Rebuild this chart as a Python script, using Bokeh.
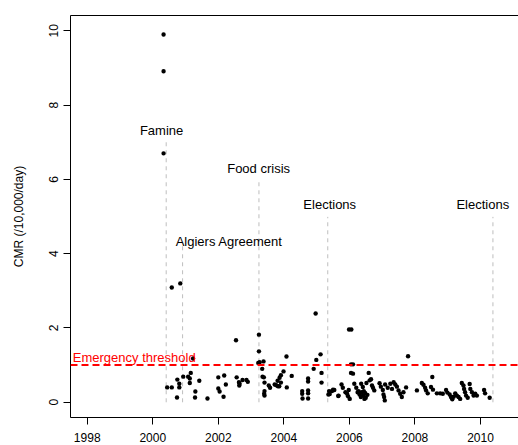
from bokeh.plotting import figure
from bokeh.models import Range1d, FixedTicker, LinearAxis, Span
from bokeh.core.properties import value
from bokeh.embed import file_html
from bokeh.resources import INLINE

# CMR survey points: (year, CMR per 10,000/day)
years = [
    2000.33, 2000.33, 2000.33,
    2000.58, 2000.84, 2002.54, 2001.23,
    2000.44, 2000.58, 2000.74, 2000.75, 2000.81, 2000.81, 2000.93, 2001.08, 2001.13, 2001.16,
    2001.13, 2001.30, 2001.29, 2001.42, 2001.67, 2002.00, 2002.18, 2002.00, 2002.04, 2002.16,
    2002.23, 2002.56, 2002.63, 2002.64, 2002.65, 2002.74, 2002.86, 2002.90,
    2003.24, 2003.24, 2003.22, 2003.26, 2003.38, 2003.34, 2003.35, 2003.39, 2003.41, 2003.41,
    2003.40, 2003.41, 2003.54, 2003.58, 2003.72, 2003.77, 2003.82, 2003.86, 2003.81, 2003.87,
    2003.91, 2003.91, 2003.99, 2004.08, 2004.09, 2004.24, 2004.56, 2004.56, 2004.57, 2004.74,
    2004.74, 2004.74, 2004.74, 2004.74, 2004.97, 2004.99, 2004.91, 2005.12, 2005.15, 2005.15,
    2005.38, 2005.40, 2005.36, 2005.50, 2005.66, 2005.47, 2005.54, 2005.67,
    2005.76, 2005.80, 2005.88, 2005.93, 2005.96, 2006.01, 2005.98, 2005.99, 2006.06,
    2006.05, 2006.11, 2006.05, 2006.11, 2006.15,
    2006.21, 2006.25, 2006.31, 2006.35, 2006.38, 2006.43, 2006.46, 2006.41, 2006.36,
    2006.28, 2006.33, 2006.44, 2006.48, 2006.55, 2006.50,
    2006.52, 2006.59, 2006.66, 2006.62, 2006.69, 2006.72, 2006.76,
    2006.92, 2006.96, 2007.02, 2007.04, 2007.06, 2007.08,
    2007.09, 2007.17, 2007.25, 2007.30, 2007.35, 2007.40, 2007.45, 2007.50, 2007.55, 2007.60, 2007.65,
    2007.79, 2007.73,
    2008.06, 2008.21, 2008.26, 2008.31, 2008.34, 2008.39, 2008.53, 2008.49, 2008.55,
    2008.67, 2008.77, 2008.85, 2008.95, 2008.99, 2009.06, 2009.10, 2009.14, 2009.18,
    2009.23, 2009.28, 2009.33, 2009.38, 2009.43, 2009.48, 2009.50, 2009.53, 2009.56, 2009.61,
    2009.67, 2009.69, 2009.74, 2009.79, 2009.84, 2009.89, 2010.11, 2010.14, 2010.28,
]
cmr = [
    9.90, 8.91, 6.70,
    3.09, 3.20, 1.67, 1.18,
    0.40, 0.40, 0.13, 0.61, 0.50, 0.40, 0.69, 0.69, 0.64, 0.79,
    0.52, 0.29, 0.13, 0.58, 0.10, 0.67, 0.72, 0.37, 0.29, 0.15,
    0.48, 0.67, 0.54, 0.45, 0.50, 0.60, 0.60, 0.55,
    1.82, 1.37, 1.06, 1.08, 1.10, 0.90, 0.69, 0.67, 0.53, 0.30,
    0.23, 0.18, 0.45, 0.39, 0.48, 0.46, 0.43, 0.43, 0.58, 0.66,
    0.73, 0.53, 0.83, 1.23, 0.40, 0.71, 0.30, 0.23, 0.10, 0.64,
    0.56, 0.32, 0.24, 0.10, 2.39, 1.14, 0.90, 1.29, 0.79, 0.53,
    0.30, 0.22, 0.21, 0.34, 0.17, 0.30, 0.33, 0.18,
    0.48, 0.39, 0.27, 0.23, 0.16, 0.09, 0.33, 1.96, 1.96,
    1.02, 1.02, 0.79, 0.77, 0.50,
    0.39, 0.27, 0.21, 0.14, 0.27, 0.18, 0.09, 0.41, 0.50,
    0.30, 0.25, 0.30, 0.25, 0.20, 0.12,
    0.52, 0.79, 0.62, 0.59, 0.45, 0.39, 0.32,
    0.51, 0.42, 0.33, 0.21, 0.14, 0.05,
    0.48, 0.39, 0.50, 0.36, 0.54, 0.48, 0.42, 0.32, 0.23, 0.14, 0.27,
    1.24, 0.40,
    0.32, 0.52, 0.47, 0.39, 0.32, 0.24, 0.68, 0.41, 0.34,
    0.24, 0.24, 0.23, 0.33, 0.26, 0.21, 0.14, 0.08, 0.15,
    0.24, 0.18, 0.14, 0.09, 0.52, 0.45, 0.36, 0.27, 0.18, 0.12,
    0.49, 0.36, 0.27, 0.18, 0.23, 0.18, 0.33, 0.24, 0.12,
]

# Events: vertical marker lines and their labels
event_line_x = [2000.41, 2000.91, 2003.24, 2005.34, 2010.38]
event_line_top = [7.0, 4.22, 5.93, 4.99, 4.99]
event_labels = ["Famine", "Algiers Agreement", "Food crisis", "Elections", "Elections"]
event_label_x = [2000.27, 2002.33, 2003.23, 2005.40, 2010.07]
event_label_y = [7.32, 4.33, 6.29, 5.32, 5.32]

threshold = 1.0
threshold_label = "Emergency threshold"
threshold_label_x = 1997.56
threshold_label_y = 1.21
x_ticks = [1998, 2000, 2002, 2004, 2006, 2008, 2010]
y_ticks = [0, 2, 4, 6, 8, 10]

FONT = "Liberation Sans"

p = figure(width=518, height=445, output_backend="svg", toolbar_location=None,
           x_range=Range1d(1997.49, 2011.16), y_range=Range1d(-0.41, 10.41),
           min_border_left=70, min_border_right=0, min_border_top=15, min_border_bottom=28,
           x_axis_location=None, y_axis_location=None)
p.outline_line_color = None
p.xgrid.visible = False
p.ygrid.visible = False
p.background_fill_color = "white"
p.border_fill_color = "white"

def style_axis(ax):
    ax.axis_line_color = "black"
    ax.axis_line_width = 1
    ax.major_tick_line_color = "black"
    ax.major_tick_out = 7
    ax.major_tick_in = 0
    ax.minor_tick_out = 0
    ax.minor_tick_in = 0
    ax.major_label_text_font = FONT
    ax.major_label_text_font_size = "12px"
    ax.major_label_text_color = "black"
    ax.axis_label_text_font = FONT
    ax.axis_label_text_font_size = "12px"
    ax.axis_label_text_font_style = "normal"
    ax.axis_label_text_color = "black"

xa = LinearAxis(ticker=FixedTicker(ticks=x_ticks))
style_axis(xa)
xa.major_label_standoff = 8
p.add_layout(xa, "below")

ya = LinearAxis(ticker=FixedTicker(ticks=y_ticks), axis_label="CMR (/10,000/day)")
style_axis(ya)
ya.major_label_orientation = "vertical"
ya.major_label_standoff = 5
ya.axis_label_standoff = 21
p.add_layout(ya, "left")

top = LinearAxis(ticker=FixedTicker(ticks=[]))
top.axis_line_color = "black"
top.major_tick_out = 0
top.major_tick_in = 0
top.minor_tick_out = 0
top.minor_tick_in = 0
top.major_label_text_font_size = "0px"
p.add_layout(top, "above")

# event lines
p.segment(x0=event_line_x, y0=[0] * len(event_line_x), x1=event_line_x, y1=event_line_top,
          line_color="#BEBEBE", line_width=1, line_dash="4 4")

# threshold
p.add_layout(Span(location=threshold, dimension="width", line_color="red",
                  line_width=2, line_dash="7 4"))

# points
p.scatter(years, cmr, size=4.4, fill_color="black", line_color=None)

# labels
p.text(x=event_label_x, y=event_label_y, text=event_labels, text_font=value(FONT),
       text_font_size="13px", text_align="center", text_baseline="alphabetic", text_color="black")
p.text(x=[threshold_label_x], y=[threshold_label_y], text=[threshold_label], text_font=value(FONT),
       text_font_size="13px", text_align="left", text_baseline="alphabetic", text_color="red")

open("out.html", "w").write(file_html(p, INLINE))
